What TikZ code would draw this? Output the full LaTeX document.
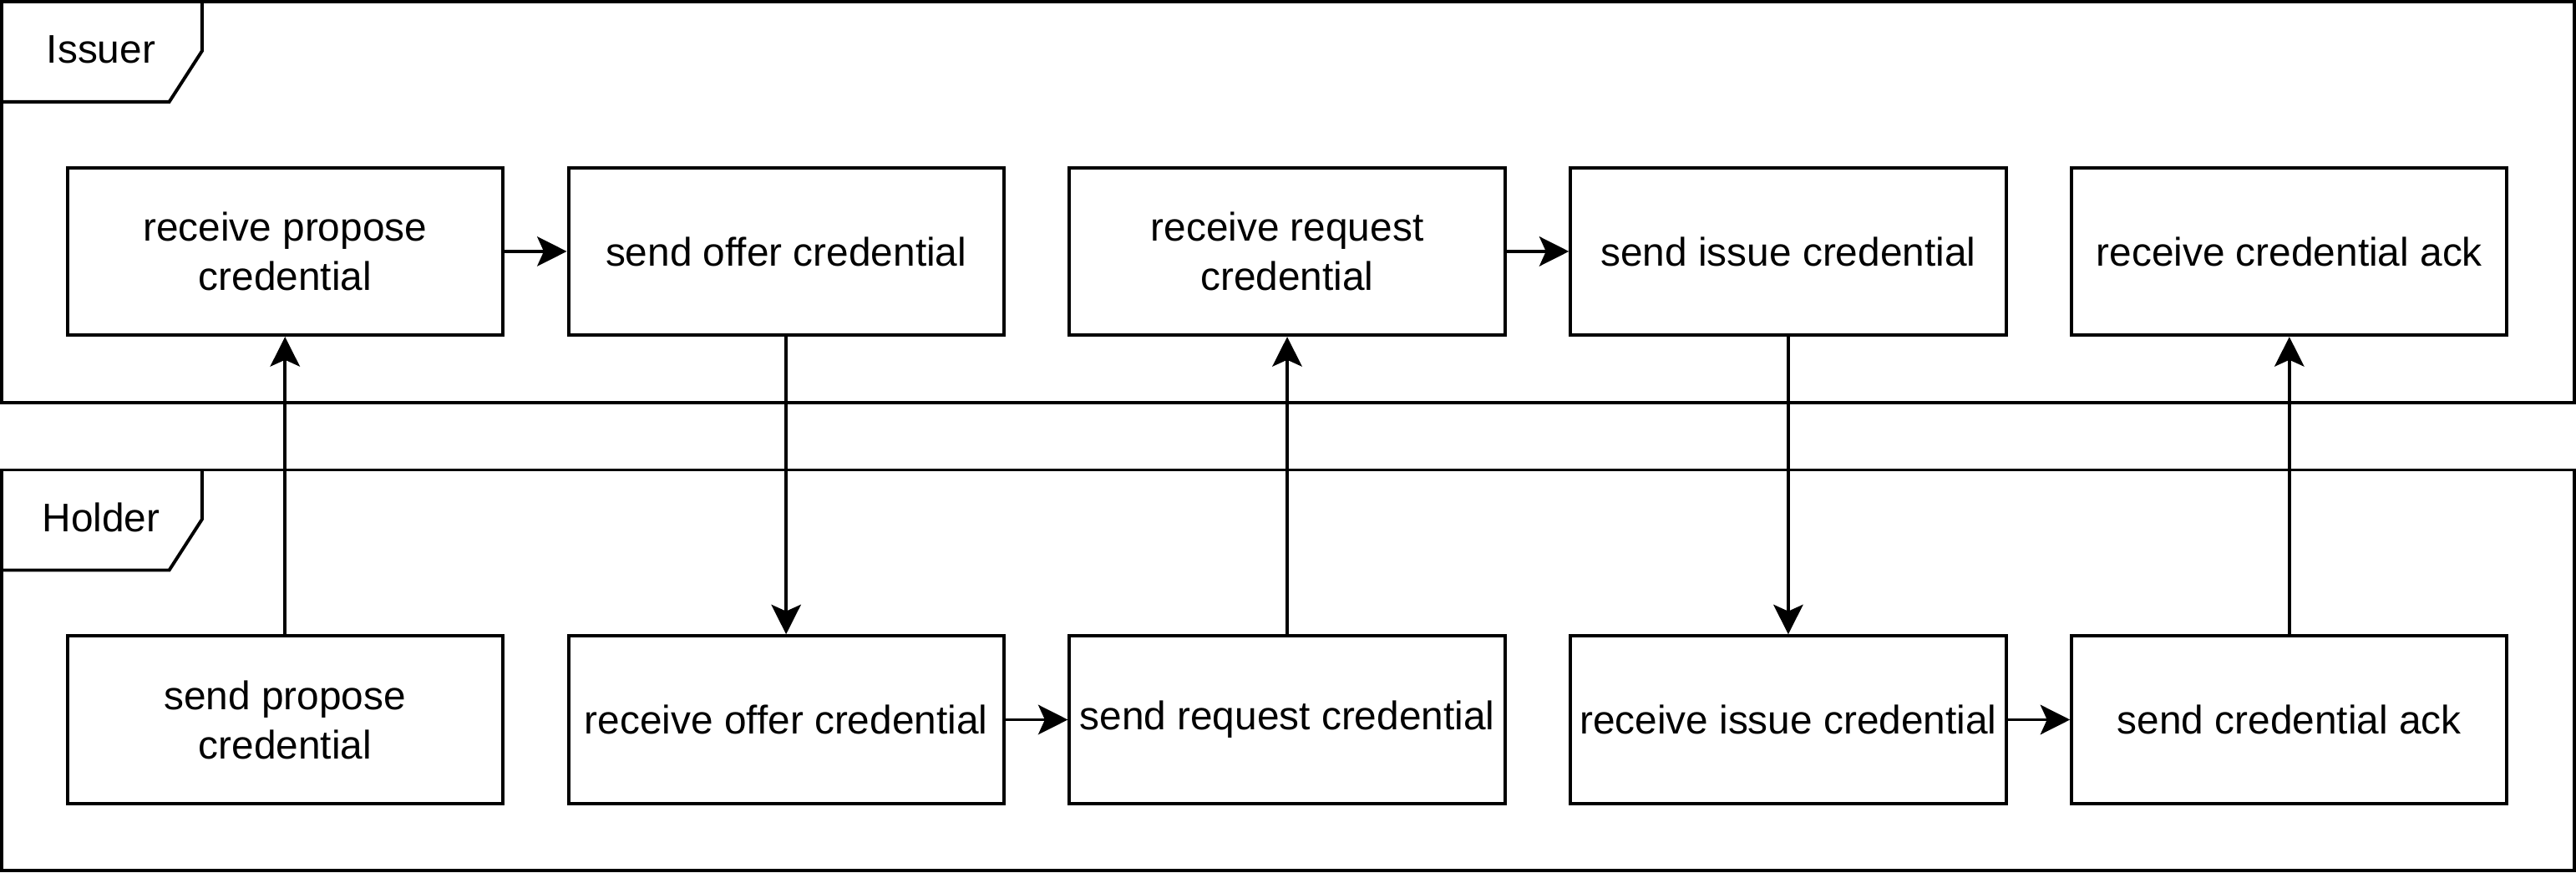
\documentclass[tikz,border=0pt]{standalone}
\usepackage{fontspec}
\setmainfont{Liberation Sans}
\usetikzlibrary{arrows.meta}
\tikzset{
  stepbox/.style={draw, line width=2pt, minimum width=265pt, minimum height=102pt, inner sep=0pt, align=center, font=\fontsize{24.3}{30}\selectfont},
  lane/.style={draw, line width=2pt},
  lanelabel/.style={font=\fontsize{24.3}{30}\selectfont, inner sep=0pt},
  flow/.style={line width=2pt, -{Stealth[length=18pt, width=18pt, inset=4pt]}}
}
\begin{document}
\begin{tikzpicture}[x=1pt,y=1pt]
\useasboundingbox (0,0) rectangle (1568,-530.8);
% lanes
\draw[lane] (1,-1) rectangle (1567,-245);
\draw[lane] (1,-62) -- (103,-62) -- (123,-31) -- (123,-1);
\node[lanelabel] (issuer) at (61.5,-30) {Issuer};
\draw[lane] (1,-286) rectangle (1567,-529.8);
\draw[lane] (1,-347) -- (103,-347) -- (123,-316) -- (123,-286);
\node[lanelabel] (holder) at (61.5,-315) {Holder};
% issuer boxes
\node[stepbox] (rpc) at (173.5,-153) {receive propose\\credential};
\node[stepbox] (soc) at (478.5,-153) {send offer credential};
\node[stepbox] (rrc) at (783.5,-153) {receive request\\credential};
\node[stepbox] (sic) at (1088.5,-153) {send issue credential};
\node[stepbox] (rca) at (1393.5,-153) {receive credential ack};
% holder boxes
\node[stepbox] (spc) at (173.5,-438) {send propose\\credential};
\node[stepbox] (roc) at (478.5,-438) {receive offer credential};
\node[stepbox] (src) at (783.5,-438) {send request credential};
\node[stepbox] (ric) at (1088.5,-438) {receive issue credential};
\node[stepbox] (sca) at (1393.5,-438) {send credential ack};
% connectors
\draw[flow] (rpc) -- (soc);
\draw[flow] (rrc) -- (sic);
\draw[flow] (roc) -- (src);
\draw[flow] (ric) -- (sca);
\draw[flow] (spc) -- (rpc);
\draw[flow] (soc) -- (roc);
\draw[flow] (src) -- (rrc);
\draw[flow] (sic) -- (ric);
\draw[flow] (sca) -- (rca);
\end{tikzpicture}
\end{document}
